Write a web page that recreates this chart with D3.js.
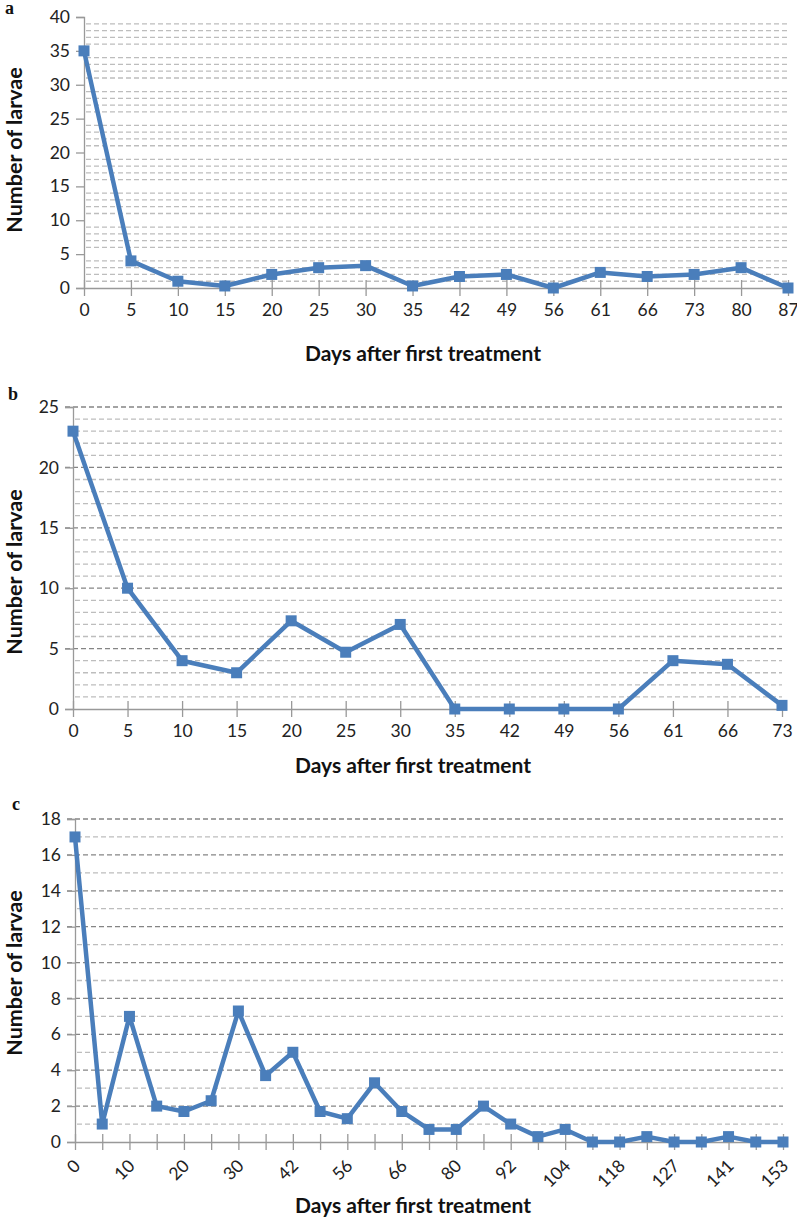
<!DOCTYPE html>
<html>
<head>
<meta charset="utf-8">
<script src="https://cdnjs.cloudflare.com/ajax/libs/d3/7.8.5/d3.min.js"></script>
<style>
  body { margin: 0; background: #fff; }
  svg text { font-family: Lato, "Open Sans", sans-serif; }
</style>
</head>
<body>
<div id="chart"></div>
<script>
// panel a
var daysA = ["0","5","10","15","20","25","30","35","42","49","56","61","66","73","80","87"];
var larvaeA = [35,4,1,0.3,2,3,3.3,0.3,1.7,2,0,2.3,1.7,2,3,0];

// panel b
var daysB = ["0","5","10","15","20","25","30","35","42","49","56","61","66","73"];
var larvaeB = [23,10,4,3,7.3,4.7,7,0,0,0,0,4,3.7,0.3];

// panel c (only every second day is labelled on the axis)
var daysC = ["0","5","10","15","20","25","30","35","42","49","56","61","66","73","80","87",
             "92","99","104","111","118","122","127","134","141","148","153"];
var larvaeC = [17,1,7,2,1.7,2.3,7.3,3.7,5,1.7,1.3,3.3,1.7,0.7,0.7,2,1,0.3,0.7,0,0,0.3,0,0,0.3,0,0];

var xTitle = "Days after first treatment";
var yTitle = "Number of larvae";

var svg = d3.select("#chart").append("svg")
    .attr("width", 797)
    .attr("height", 1218);

function LineChart(options) {

    var g = svg.append("g");

    var x = d3.scalePoint()
        .domain(options.days)
        .range([options.left, options.right])
        .padding(0);

    var y = d3.scaleLinear()
        .domain([0, options.yMax])
        .range([options.bottom, options.top]);

    // gridlines: minor every 1, major every options.major
    var grid = d3.range(1, options.yMax + 1);
    g.selectAll(".grid")
        .data(grid.filter(function(v){ return v % options.major !== 0 || options.majorGrid; }))
        .enter().append("line")
        .attr("class", "grid")
        .attr("x1", function(v){ return v % options.major === 0 ? options.left - 8 : options.left + 2; })
        .attr("x2", options.right)
        .attr("y1", function(v){ return y(v); })
        .attr("y2", function(v){ return y(v); })
        .attr("stroke", function(v){ return v % options.major === 0 ? "#858585" : "#bdbdbd"; })
        .attr("stroke-width", 1.3)
        .attr("stroke-dasharray", "5,3");

    // y axis
    var yAxis = d3.axisLeft(y)
        .tickValues(d3.range(0, options.yMax + 1, options.major))
        .tickSize(8)
        .tickPadding(6);

    var ya = g.append("g")
        .attr("transform", "translate(" + options.left + ",0)")
        .call(yAxis);
    ya.select(".domain").attr("stroke", "#999").attr("stroke-width", 1.3);
    ya.selectAll(".tick line").attr("stroke", "#999").attr("stroke-width", 1.3);
    ya.selectAll(".tick text")
        .attr("fill", "#222")
        .style("font-size", "17.5px");

    // x axis, ticks crossing the axis line
    var xAxis = d3.axisBottom(x)
        .tickSizeInner(8)
        .tickSizeOuter(0)
        .tickFormat(function(d, i){ return options.every && i % options.every ? "" : d; });

    var xa = g.append("g")
        .attr("transform", "translate(0," + options.bottom + ")")
        .call(xAxis);
    xa.select(".domain").attr("stroke", "#999").attr("stroke-width", 1.3);
    xa.selectAll(".tick line")
        .attr("y1", -8)
        .attr("stroke", "#999").attr("stroke-width", 1.3);

    var xt = xa.selectAll(".tick text")
        .attr("fill", "#222")
        .style("font-size", "17.5px");

    if (options.rotate) {
        xt.attr("text-anchor", "end")
            .attr("dy", null)
            .attr("y", 0)
            .attr("transform", "translate(6,25) rotate(-45)");
    } else {
        xt.attr("y", options.labelGap);
    }

    // line and square markers
    var pts = options.days.map(function(d, i){ return {day: d, v: options.values[i]}; });

    var line = d3.line()
        .x(function(d){ return x(d.day); })
        .y(function(d){ return y(d.v); });

    g.append("path")
        .datum(pts)
        .attr("d", line)
        .attr("fill", "none")
        .attr("stroke", "#4a7ebb")
        .attr("stroke-width", 4.5)
        .attr("stroke-linejoin", "round");

    g.selectAll(".pt")
        .data(pts)
        .enter().append("rect")
        .attr("class", "pt")
        .attr("x", function(d){ return x(d.day) - 5.5; })
        .attr("y", function(d){ return y(d.v) - 5.5; })
        .attr("width", 11)
        .attr("height", 11)
        .attr("fill", "#4a7ebb");

    // titles
    g.append("text")
        .attr("x", options.titleX)
        .attr("y", options.titleY)
        .attr("text-anchor", "middle")
        .style("font-size", "21px")
        .style("font-weight", "bold")
        .attr("fill", "#111")
        .text(xTitle);

    g.append("text")
        .attr("transform", "translate(" + (options.yTitleX) + "," + options.yTitleY + ") rotate(-90)")
        .attr("text-anchor", "middle")
        .style("font-size", "21.5px")
        .style("font-weight", "bold")
        .attr("fill", "#111")
        .text(yTitle);

    g.append("text")
        .attr("x", options.letterX)
        .attr("y", options.letterY)
        .style("font-family", "'Liberation Serif', serif")
        .style("font-size", "18px")
        .style("font-weight", "bold")
        .attr("fill", "#111")
        .text(options.letter);
}

LineChart({days: daysA, values: larvaeA, yMax: 40, major: 5, majorGrid: false,
    left: 84, right: 788, top: 17, bottom: 288, labelGap: 16,
    titleX: 423, titleY: 361, yTitleX: 22, yTitleY: 150,
    letter: "a", letterX: 5, letterY: 14});

LineChart({days: daysB, values: larvaeB, yMax: 25, major: 5, majorGrid: true,
    left: 73, right: 782, top: 407, bottom: 709, labelGap: 16,
    titleX: 413, titleY: 773, yTitleX: 22, yTitleY: 572,
    letter: "b", letterX: 8, letterY: 400});

LineChart({days: daysC, values: larvaeC, yMax: 18, major: 2, majorGrid: true,
    left: 75, right: 783, top: 819, bottom: 1142, every: 2, rotate: true,
    titleX: 413, titleY: 1213, yTitleX: 22, yTitleY: 973,
    letter: "c", letterX: 12, letterY: 810});
</script>
</body>
</html>
